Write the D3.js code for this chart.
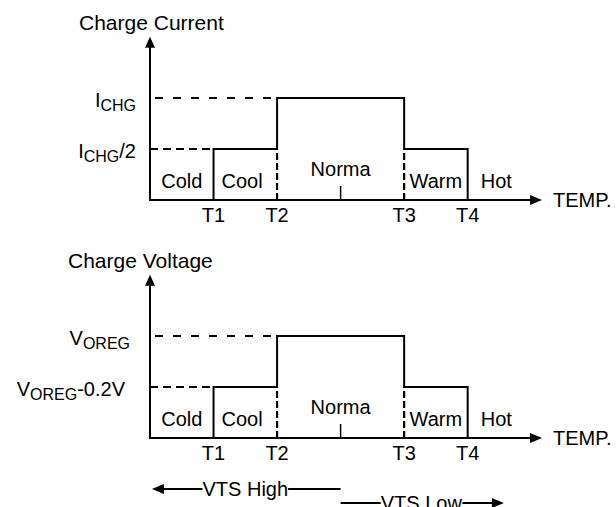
<!DOCTYPE html>
<html lang="en">

<head>
    <meta charset="UTF-8">
    <title>Charge Current / Charge Voltage vs TEMP.</title>
    <script src="https://d3js.org/d3.v7.min.js"></script>
    <style>
        body { margin: 0; background: #fff; }
        svg { display: block; }
        text { font-family: "Liberation Sans", Arial, sans-serif; fill: #000; }
    </style>
</head>

<body>
    <div id="myGraph"></div>

    <script type="text/javascript">

        // zones along the temperature axis (in units of the T spacing)
        const zones = ["Cold", "Cool", "Norma", "Warm", "Hot"];
        const zoneStart = [0, 1, 2, 4, 5];
        const zoneLevel = [0, 1, 2, 1, 0];
        const zoneLabelAt = [0.5, 1.45, 3, 4.5, 5.45];

        const tickNames = ["T1", "T2", "T3", "T4"];
        const tickAt = [1, 2, 4, 5];
        const normalMark = 3;
        const xMax = 6.17;
        const yMax = 3.2;

        // y levels and their labels (main letter, subscript, tail)
        const levelValues = [2, 1];
        const currentLabels = [["I", "CHG", ""], ["I", "CHG", "/2"]];
        const voltageLabels = [["V", "OREG", ""], ["V", "OREG", "-0.2V"]];

        const titles = ["Charge Current", "Charge Voltage"];

        // VTS arrows under the voltage chart
        const vtsNames = ["VTS High", "VTS Low"];
        const vtsFrom = [3.0, 3.0];
        const vtsTo = [0.03, 5.57];
        const vtsTextAt = [1.5, 4.27];

        let svg = d3.select("#myGraph").append("svg")
            .attr("width", 616)
            .attr("height", 507);

        let x = d3.scaleLinear().domain([0, xMax]).range([150, 542]);

        // panels: top = current, bottom = voltage
        let panels = [
            { axisY: 200, title: titles[0], titleX: 79, labels: currentLabels, labelRight: [136, 136] },
            { axisY: 438, title: titles[1], titleX: 68, labels: voltageLabels, labelRight: [130, 125] }
        ];

        panels.forEach(function (p) {
            drawPanel(p);
        });

        function drawPanel(p) {
            let y = d3.scaleLinear().domain([0, 2]).range([p.axisY, p.axisY - 102]);
            let g = svg.append("g");

            // axes
            g.append("line")
                .attr("x1", x(0)).attr("x2", x(0))
                .attr("y1", y(0) + 1).attr("y2", y(yMax) + 8)
                .attr("stroke", "#000").attr("stroke-width", 2);
            g.append("path")
                .attr("d", "M" + x(0) + "," + y(yMax) + " l-5,11 l10,0 z")
                .attr("fill", "#000");

            g.append("line")
                .attr("x1", x(0) - 1).attr("x2", x(xMax) - 8)
                .attr("y1", y(0)).attr("y2", y(0))
                .attr("stroke", "#000").attr("stroke-width", 2);
            g.append("path")
                .attr("d", "M" + x(xMax) + "," + y(0) + " l-12,-5 l0,10 z")
                .attr("fill", "#000");

            g.append("text")
                .attr("x", x(xMax) + 11).attr("y", y(0) + 7)
                .style("font-size", "20px")
                .text("TEMP.");

            // title
            g.append("text")
                .attr("x", p.titleX).attr("y", y(0) - 170)
                .style("font-size", "21px")
                .text(p.title);

            // dashed reference lines to the first zone reaching each level
            levelValues.forEach(function (v, i) {
                let k = zoneLevel.findIndex(function (l) { return l >= v; });
                g.append("line")
                    .attr("x1", x(0)).attr("x2", x(zoneStart[k]))
                    .attr("y1", y(v)).attr("y2", y(v))
                    .attr("stroke", "#000").attr("stroke-width", 2.2)
                    .attr("stroke-dasharray", i == 0 ? "0,5,8,5" : "8,5");

                let lab = g.append("text")
                    .attr("x", p.labelRight[i]).attr("y", y(v) + 9)
                    .attr("text-anchor", "end")
                    .style("font-size", "20px");
                lab.append("tspan").text(p.labels[i][0]);
                lab.append("tspan").attr("dy", 4).style("font-size", "16px").text(p.labels[i][1]);
                if (p.labels[i][2] != "") {
                    lab.append("tspan").attr("dy", -4).text(p.labels[i][2]);
                }
            });

            // horizontal step segments
            zones.forEach(function (z, i) {
                let end = i < zones.length - 1 ? zoneStart[i + 1] : xMax;
                if (zoneLevel[i] > 0) {
                    g.append("line")
                        .attr("x1", x(zoneStart[i])).attr("x2", x(end))
                        .attr("y1", y(zoneLevel[i])).attr("y2", y(zoneLevel[i]))
                        .attr("stroke", "#000").attr("stroke-width", 2);
                }
            });

            // vertical edges at each T
            tickAt.forEach(function (t, j) {
                let k = zoneStart.indexOf(t);
                let a = zoneLevel[k - 1], b = zoneLevel[k];
                let lo = Math.min(a, b), hi = Math.max(a, b);
                g.append("line")
                    .attr("x1", x(t)).attr("x2", x(t))
                    .attr("y1", y(lo)).attr("y2", y(hi) - 1)
                    .attr("stroke", "#000").attr("stroke-width", 2);
                if (lo > 0) {
                    g.append("line")
                        .attr("x1", x(t)).attr("x2", x(t))
                        .attr("y1", y(0)).attr("y2", y(lo))
                        .attr("stroke", "#000").attr("stroke-width", 2.2)
                        .attr("stroke-dasharray", "7,3");
                }
                g.append("text")
                    .attr("x", x(t)).attr("y", y(0) + 22)
                    .attr("text-anchor", "middle")
                    .style("font-size", "20px")
                    .text(tickNames[j]);
            });

            // small mark in the normal zone
            g.append("line")
                .attr("x1", x(normalMark)).attr("x2", x(normalMark))
                .attr("y1", y(0)).attr("y2", y(0) - 14)
                .attr("stroke", "#000").attr("stroke-width", 1.5);

            // zone names
            zones.forEach(function (z, i) {
                g.append("text")
                    .attr("x", x(zoneLabelAt[i]))
                    .attr("y", y(0) - (zoneLevel[i] == 2 ? 24 : 12))
                    .attr("text-anchor", "middle")
                    .style("font-size", "20px")
                    .text(z);
            });
        }

        // VTS High / VTS Low arrows
        let vtsY = [489, 503];
        vtsNames.forEach(function (name, i) {
            let yy = vtsY[i];
            let dir = vtsTo[i] > vtsFrom[i] ? 1 : -1;
            svg.append("line")
                .attr("x1", x(vtsFrom[i])).attr("x2", x(vtsTo[i]) - dir * 8)
                .attr("y1", yy).attr("y2", yy)
                .attr("stroke", "#000").attr("stroke-width", 2);
            svg.append("path")
                .attr("d", "M" + x(vtsTo[i]) + "," + yy + " l" + (-dir * 12) + ",-5 l0,10 z")
                .attr("fill", "#000");
            let bg = svg.append("rect").attr("fill", "#fff");
            let t = svg.append("text")
                .attr("x", x(vtsTextAt[i])).attr("y", yy + 7)
                .attr("text-anchor", "middle")
                .style("font-size", "20px")
                .text(name);
            let bb = t.node().getBBox();
            bg.attr("x", bb.x).attr("y", yy - 3)
                .attr("width", bb.width).attr("height", 6);
        });

    </script>
</body>

</html>
